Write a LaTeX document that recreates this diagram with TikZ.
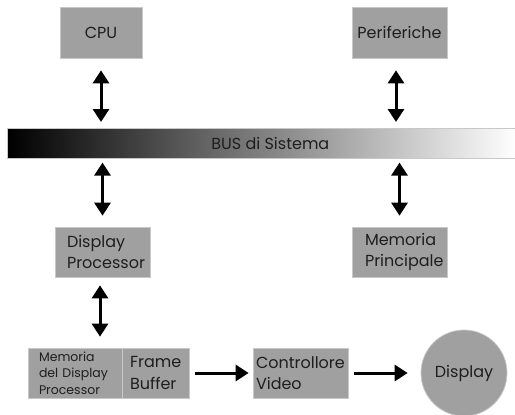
\documentclass[tikz,border=0pt]{standalone}
\usepackage{fontspec}
\setmainfont{Poppins}
\usetikzlibrary{arrows.meta}
\definecolor{boxfill}{HTML}{A0A0A0}
\definecolor{boxline}{HTML}{C8C8C8}
\definecolor{ink}{HTML}{1E1E1E}
\tikzset{
  unit/.style={rectangle, fill=boxfill, draw=boxline, line width=0.7pt,
    inner sep=0pt, text=ink, font=\fontsize{16}{21.5}\selectfont},
  dbl/.style={line width=3pt, {Triangle[width=16pt,length=13pt]}-{Triangle[width=16pt,length=13pt]}},
  sgl/.style={line width=3pt, -{Triangle[width=16pt,length=13pt]}},
}
\begin{document}
\begin{tikzpicture}[x=1pt, y=-1pt]
\useasboundingbox (0,0) rectangle (515,415);

% system bus (label sits slightly right of the bar's centre)
\node[rectangle, draw=boxline, line width=0.6pt, left color=black, right color=white,
  minimum width=509pt, minimum height=30pt, inner sep=0pt, anchor=north west,
  text=ink, font=\fontsize{16}{18}\selectfont] (bus) at (7,128) {\hspace*{17pt}BUS di Sistema};

% units above the bus
\node[unit, minimum width=82pt, minimum height=51pt] (cpu) at (101,32.5) {CPU};
\node[unit, minimum width=95pt, minimum height=51pt] (per) at (399.5,32.5) {Periferiche};

% units below the bus
\node[unit, minimum width=95pt, minimum height=50pt, align=left, text width=71pt] (dp) at (102.5,252) {Display\\Processor};
\node[unit, minimum width=95pt, minimum height=50pt, align=left, text width=69pt] (mp) at (399.5,252) {Memoria\\Principale};

% display processor memory and frame buffer
\node[unit, minimum width=94pt, minimum height=50pt, align=left, text width=72pt,
  font=\fontsize{12.5}{16.5}\selectfont] (dpm) at (75,373) {Memoria\\del Display\\Processor};
\node[unit, minimum width=67pt, minimum height=50pt, align=left, text width=51pt] (fb) at (155.5,373) {Frame\\Buffer};

% video controller and display
\node[unit, minimum width=95pt, minimum height=50pt, align=left, text width=89pt] (cv) at (300.5,373) {Controllore\\Video};
\node[circle, fill=boxfill, draw=boxline, line width=0.7pt, minimum size=86pt, inner sep=0pt,
  text=ink, font=\fontsize{16}{18}\selectfont] (disp) at (464,373) {Display};

% bus connections
\draw[dbl, shorten <=12pt, shorten >=6pt] (cpu.south) -- (cpu.south |- bus.north);
\draw[dbl, shorten <=12pt, shorten >=6pt] (per.south -| 396,0) -- (bus.north -| 396,0);
\draw[dbl, shorten <=4pt, shorten >=11pt] (bus.south -| dp.south) -- (dp.north);
\draw[dbl, shorten <=4pt, shorten >=11pt] (bus.south -| mp.south) -- (mp.north);

% display pipeline
\draw[dbl, shorten <=8pt, shorten >=11pt] (dp.south -| 100,0) -- (dpm.north -| 100,0);
\draw[sgl, shorten <=6pt, shorten >=4pt] (fb.east) -- (cv.west);
\draw[sgl, shorten <=6pt, shorten >=13pt] (cv.east) -- (disp.west);
\end{tikzpicture}
\end{document}
